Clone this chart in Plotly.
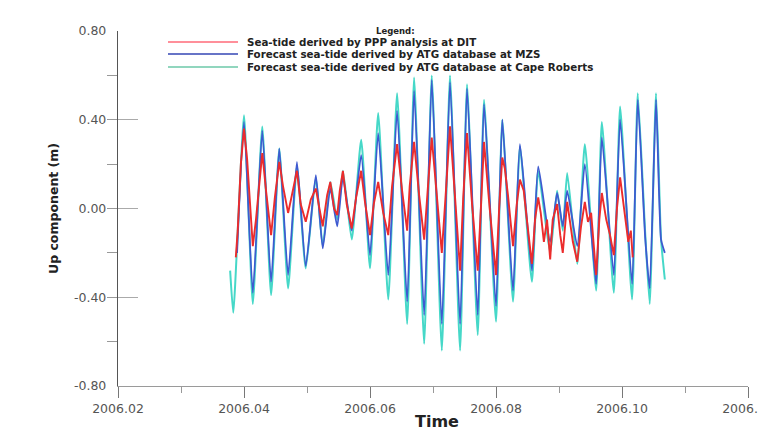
import plotly.graph_objects as go

# ---------------- data ----------------
cape_t = [2006.0378, 2006.0383, 2006.0400, 2006.0414, 2006.0429, 2006.0443, 2006.0456,
          2006.0470, 2006.0484, 2006.0498, 2006.0514, 2006.0525, 2006.0537, 2006.0548,
          2006.0557, 2006.0571, 2006.0586, 2006.0600, 2006.0613, 2006.0629, 2006.0643,
          2006.0659, 2006.0670, 2006.0686, 2006.0698, 2006.0714, 2006.0727, 2006.0743,
          2006.0754, 2006.0771, 2006.0781, 2006.0800, 2006.0810, 2006.0827, 2006.0838,
          2006.0857, 2006.0867, 2006.0886, 2006.0897, 2006.0906, 2006.0913, 2006.0929,
          2006.0941, 2006.0959, 2006.0968, 2006.0987, 2006.0997, 2006.1016, 2006.1025,
          2006.1037, 2006.1044, 2006.1054, 2006.1062, 2006.1068]
cape_v = [-0.28, -0.47, 0.42, -0.43, 0.37, -0.39, 0.27,
          -0.36, 0.19, -0.27, 0.14, -0.17, 0.12, -0.05,
          0.17, -0.14, 0.31, -0.27, 0.43, -0.41, 0.52,
          -0.52, 0.59, -0.61, 0.60, -0.64, 0.60, -0.64,
          0.56, -0.57, 0.49, -0.51, 0.40, -0.42, 0.28,
          -0.33, 0.17, -0.20, 0.08, -0.10, 0.16, -0.25,
          0.29, -0.37, 0.39, -0.38, 0.46, -0.41, 0.52,
          -0.12, -0.43, 0.52, -0.14, -0.32]

mzs_t = [2006.0389, 2006.0400, 2006.0414, 2006.0429, 2006.0443, 2006.0456, 2006.0470,
         2006.0484, 2006.0498, 2006.0514, 2006.0525, 2006.0537, 2006.0548, 2006.0557,
         2006.0571, 2006.0586, 2006.0600, 2006.0613, 2006.0629, 2006.0643, 2006.0659,
         2006.0670, 2006.0686, 2006.0698, 2006.0714, 2006.0727, 2006.0743, 2006.0754,
         2006.0771, 2006.0781, 2006.0800, 2006.0810, 2006.0827, 2006.0838, 2006.0857,
         2006.0867, 2006.0886, 2006.0897, 2006.0906, 2006.0913, 2006.0929, 2006.0941,
         2006.0959, 2006.0968, 2006.0987, 2006.0997, 2006.1016, 2006.1025, 2006.1037,
         2006.1044, 2006.1054, 2006.1062, 2006.1068]
mzs_v = [-0.20, 0.39, -0.38, 0.35, -0.33, 0.27, -0.30,
         0.21, -0.26, 0.15, -0.18, 0.09, -0.08, 0.14,
         -0.10, 0.24, -0.21, 0.34, -0.30, 0.44, -0.42,
         0.53, -0.48, 0.58, -0.52, 0.57, -0.52, 0.54,
         -0.48, 0.47, -0.44, 0.40, -0.37, 0.29, -0.28,
         0.19, -0.15, 0.07, -0.08, 0.08, -0.17, 0.20,
         -0.34, 0.32, -0.30, 0.40, -0.34, 0.49, -0.14,
         -0.36, 0.49, -0.14, -0.20]

dit_t = [2006.0387, 2006.0390, 2006.0395, 2006.0400, 2006.0405, 2006.0410, 2006.0414,
         2006.0419, 2006.0424, 2006.0429, 2006.0435, 2006.0443, 2006.0449, 2006.0456,
         2006.0462, 2006.0470, 2006.0476, 2006.0484, 2006.0490, 2006.0498, 2006.0506,
         2006.0514, 2006.0521, 2006.0525, 2006.0532, 2006.0537, 2006.0543, 2006.0548,
         2006.0552, 2006.0557, 2006.0563, 2006.0571, 2006.0578, 2006.0586, 2006.0592,
         2006.0600, 2006.0606, 2006.0613, 2006.0621, 2006.0629, 2006.0635, 2006.0643,
         2006.0651, 2006.0659, 2006.0663, 2006.0670, 2006.0678, 2006.0686, 2006.0692,
         2006.0698, 2006.0706, 2006.0714, 2006.0721, 2006.0727, 2006.0735, 2006.0743,
         2006.0748, 2006.0754, 2006.0762, 2006.0771, 2006.0776, 2006.0781, 2006.0790,
         2006.0800, 2006.0805, 2006.0810, 2006.0814, 2006.0819, 2006.0827, 2006.0833,
         2006.0838, 2006.0844, 2006.0849, 2006.0857, 2006.0862, 2006.0867, 2006.0871,
         2006.0876, 2006.0881, 2006.0886, 2006.0890, 2006.0897, 2006.0902, 2006.0906,
         2006.0913, 2006.0917, 2006.0922, 2006.0929, 2006.0935, 2006.0941, 2006.0946,
         2006.0951, 2006.0959, 2006.0964, 2006.0968, 2006.0975, 2006.0981, 2006.0987,
         2006.0992, 2006.0997, 2006.1003, 2006.1010, 2006.1014, 2006.1017]
dit_v = [-0.22, -0.10, 0.20, 0.36, 0.22, 0.00, -0.17,
         -0.05, 0.12, 0.25, 0.08, -0.12, 0.05, 0.21,
         0.10, -0.02, 0.06, 0.17, 0.02, -0.06, 0.04,
         0.09, -0.02, -0.08, 0.06, 0.12, 0.00, -0.03,
         0.08, 0.17, 0.02, -0.09, 0.05, 0.17, 0.03,
         -0.12, 0.02, 0.12, -0.02, -0.12, 0.10, 0.29,
         0.08, -0.10, 0.10, 0.30, 0.06, -0.14, 0.10,
         0.32, 0.06, -0.20, 0.10, 0.37, 0.05, -0.28,
         0.05, 0.34, 0.02, -0.28, 0.00, 0.30, 0.00,
         -0.30, 0.00, 0.23, 0.18, 0.06, -0.17, 0.02,
         0.13, 0.08, -0.05, -0.25, -0.05, 0.05, -0.02,
         -0.15, -0.05, -0.23, -0.05, 0.02, -0.12, -0.20,
         0.03, -0.05, -0.15, -0.24, -0.08, 0.03, -0.06,
         -0.02, -0.30, -0.05, 0.07, -0.05, -0.12, -0.21,
         0.00, 0.14, 0.00, -0.15, -0.10, -0.22]

legend_names = ["Sea-tide derived by PPP analysis at DIT",
                "Forecast sea-tide derived by ATG database at MZS",
                "Forecast sea-tide derived by ATG database at Cape Roberts"]
x_ticks = [2006.02, 2006.04, 2006.06, 2006.08, 2006.10, 2006.12]
y_ticks = [-0.8, -0.4, 0.0, 0.4, 0.8]

# ---------------- styling ----------------
W, H = 758, 432
ML, MR, MT, MB = 118, 10, 31, 46
PW, PH = W - ML - MR, H - MT - MB
C_RED, C_BLUE, C_CYAN = "#ec2c2c", "#3e5ad0", "#46d8c8"
FONT = "DejaVu Sans"


def px(xp):
    return (xp - ML) / PW


def py(yp):
    return (H - MB - yp) / PH


fig = go.Figure()
fig.add_trace(go.Scatter(x=cape_t, y=cape_v, mode="lines", name=legend_names[2],
                         line=dict(color=C_CYAN, width=2.0, shape="spline", smoothing=0.5),
                         showlegend=False))
fig.add_trace(go.Scatter(x=mzs_t, y=mzs_v, mode="lines", name=legend_names[1],
                         line=dict(color=C_BLUE, width=1.8, shape="spline", smoothing=0.5),
                         showlegend=False))
fig.add_trace(go.Scatter(x=dit_t, y=dit_v, mode="lines", name=legend_names[0],
                         line=dict(color=C_RED, width=1.9),
                         showlegend=False))

# custom compact legend
leg_rows = [42, 54, 67]
leg_cols = ["#ff6a78", "#3446b4", "#6cc8a8"]
shapes = []
annotations = []
for name, row, col in zip(legend_names, leg_rows, leg_cols):
    shapes.append(dict(type="line", xref="paper", yref="paper",
                       x0=px(168), x1=px(238), y0=py(row), y1=py(row),
                       line=dict(color=col, width=1.3)))
    annotations.append(dict(text="<b>" + name + "</b>", xref="paper", yref="paper",
                            x=px(245), y=py(row), xanchor="left", yanchor="middle",
                            showarrow=False, font=dict(family=FONT, size=10.3, color="#222")))
annotations.append(dict(text="<b>Legend:</b>", xref="paper", yref="paper",
                        x=px(395), y=py(31), xanchor="center", yanchor="middle",
                        showarrow=False, font=dict(family=FONT, size=8.5, color="#222")))
annotations.append(dict(text="<b>Up component (m)</b>", xref="paper", yref="paper",
                        x=px(53), y=py(209), xanchor="center", yanchor="middle",
                        textangle=-90, showarrow=False,
                        font=dict(family=FONT, size=12.5, color="#222")))
annotations.append(dict(text="<b>Time</b>", xref="paper", yref="paper",
                        x=px(437), y=py(421), xanchor="center", yanchor="middle",
                        showarrow=False, font=dict(family=FONT, size=16, color="#222")))

fig.update_layout(
    width=W, height=H,
    margin=dict(l=ML, r=MR, t=MT, b=MB, pad=0, autoexpand=False),
    paper_bgcolor="white", plot_bgcolor="white",
    showlegend=False,
    shapes=shapes, annotations=annotations,
    font=dict(family=FONT, color="#444"),
)
fig.update_xaxes(
    range=[2006.02, 2006.12], tickmode="array", tickvals=x_ticks,
    ticktext=["%.2f" % v for v in x_ticks], ticklabeloverflow="allow",
    automargin=False,
    showline=True, linecolor="#9a9a9a", linewidth=1.2,
    ticks="outside", ticklen=11, tickcolor="#777", tickwidth=1.2,
    minor=dict(ticks="outside", ticklen=6, tickcolor="#999", dtick=0.01, tick0=2006.02),
    showgrid=False, zeroline=False,
    tickfont=dict(family=FONT, size=12.5, color="#555"),
)
fig.update_yaxes(
    range=[-0.8, 0.8], tickmode="array", tickvals=y_ticks,
    ticktext=["%.2f" % v for v in y_ticks],
    automargin=False,
    showline=True, linecolor="#555", linewidth=1.4,
    ticks="inside", ticklen=20, tickcolor="#aaa", tickwidth=1.2,
    minor=dict(ticks="outside", ticklen=10, tickcolor="#999", dtick=0.2, tick0=0),
    ticklabelstandoff=8,
    showgrid=False, zeroline=False,
    tickfont=dict(family=FONT, size=12.5, color="#555"),
)

fig.write_html("out.html")
